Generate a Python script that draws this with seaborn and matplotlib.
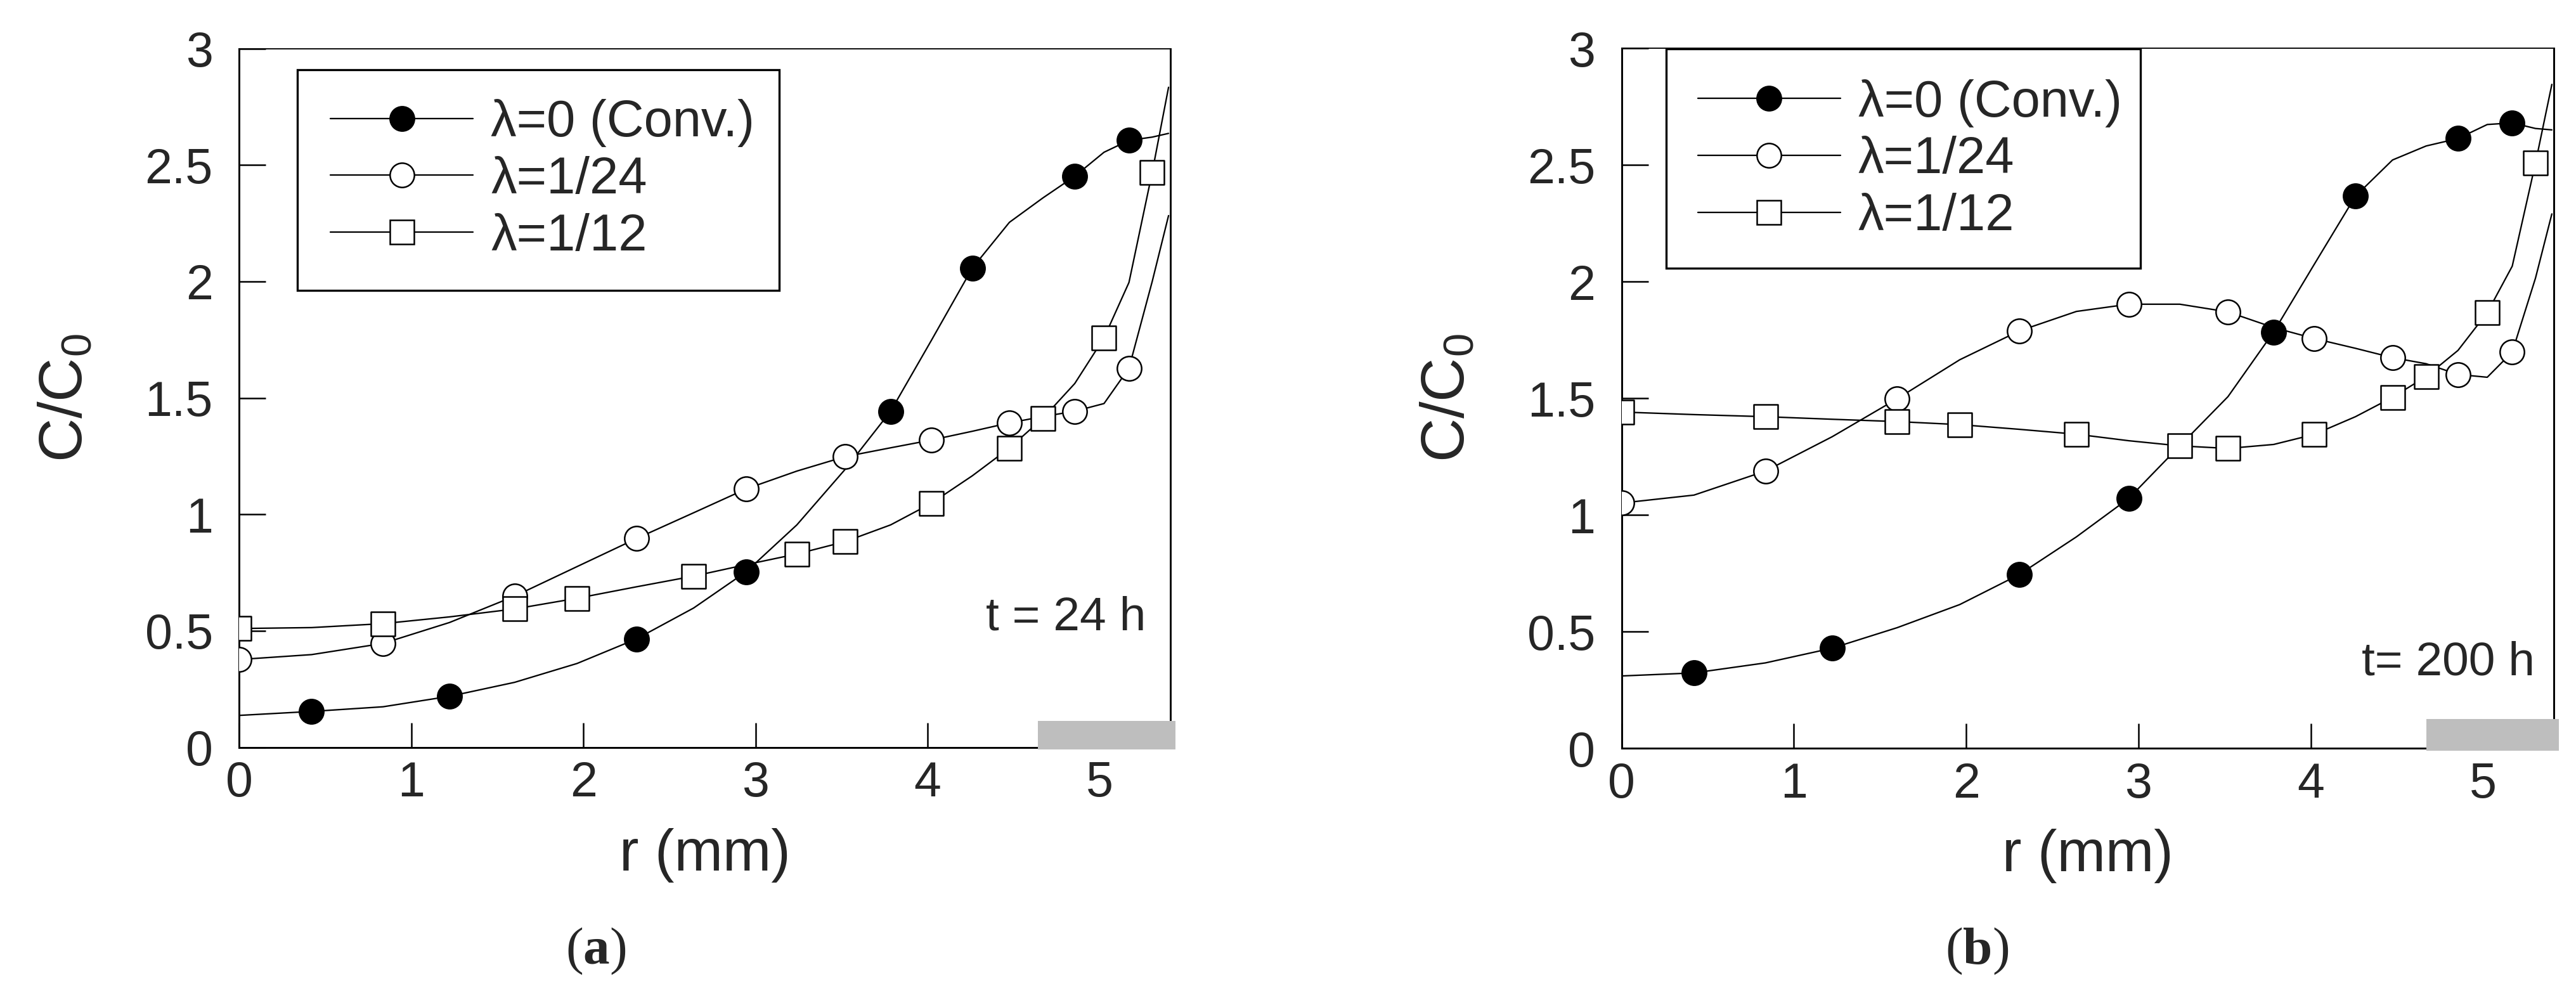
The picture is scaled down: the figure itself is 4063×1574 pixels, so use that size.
import numpy as np
import seaborn as sns
import matplotlib.pyplot as plt
from matplotlib.lines import Line2D
from matplotlib.patches import Rectangle

# radial nodes of the computed profiles (mm)
r_nodes = np.array([0.0, 0.42, 0.835, 1.222, 1.60, 1.963, 2.307, 2.64, 2.944, 3.24, 3.52,
                    3.785, 4.02, 4.26, 4.475, 4.67, 4.855, 5.025, 5.17, 5.305, 5.40])

# t = 24 h
conv_24h = np.array([0.137, 0.154, 0.174, 0.219, 0.279, 0.36, 0.465, 0.598, 0.753, 0.955, 1.193,
                     1.443, 1.745, 2.058, 2.254, 2.359, 2.452, 2.555, 2.606, 2.62, 2.636])
lam24_24h = np.array([0.377, 0.398, 0.446, 0.536, 0.649, 0.776, 0.896, 1.007, 1.109, 1.186, 1.248,
                      1.286, 1.319, 1.357, 1.393, 1.42, 1.443, 1.476, 1.628, 2.0, 2.283])
lam12_24h = np.array([0.51, 0.514, 0.531, 0.56, 0.594, 0.64, 0.689, 0.735, 0.784, 0.83, 0.883,
                      0.955, 1.047, 1.166, 1.285, 1.413, 1.562, 1.758, 1.996, 2.469, 2.834])

# t = 200 h
conv_200h = np.array([0.31, 0.323, 0.366, 0.429, 0.517, 0.616, 0.744, 0.906, 1.071, 1.296, 1.507,
                      1.784, 2.073, 2.366, 2.521, 2.581, 2.613, 2.673, 2.68, 2.656, 2.65])
lam24_200h = np.array([1.051, 1.085, 1.188, 1.335, 1.498, 1.665, 1.788, 1.872, 1.903, 1.903, 1.87,
                       1.803, 1.756, 1.714, 1.674, 1.648, 1.602, 1.59, 1.698, 2.015, 2.29])
lam12_200h = np.array([1.441, 1.43, 1.421, 1.41, 1.40, 1.387, 1.367, 1.346, 1.318, 1.296, 1.285,
                       1.302, 1.345, 1.421, 1.504, 1.593, 1.705, 1.867, 2.066, 2.508, 2.845])

# which nodes carry a symbol
conv_marks = [1, 3, 6, 8, 11, 13, 16, 18]
lam24_marks = [0, 2, 4, 6, 8, 10, 12, 14, 16, 18]
lam12_marks = [0, 2, 4, 5, 7, 9, 10, 12, 14, 15, 17, 19]

legend_labels = ['λ=0 (Conv.)', 'λ=1/24', 'λ=1/12']
time_labels = ['t = 24 h', 't= 200 h']
panel_labels = ['a', 'b']
y_ticks = [0, 0.5, 1, 1.5, 2, 2.5, 3]
y_tick_labels = ['0', '0.5', '1', '1.5', '2', '2.5', '3']
x_ticks = [0, 1, 2, 3, 4, 5]
zone_start = [4.64, 4.67]   # grey band on the r axis
zone_height = [0.112, 0.125]

sns.set_style('ticks')
plt.rcParams['font.family'] = ['Liberation Sans', 'DejaVu Sans']
plt.rcParams['mathtext.fontset'] = 'custom'
plt.rcParams['mathtext.bf'] = 'Liberation Serif:bold'
plt.rcParams['mathtext.rm'] = 'Liberation Serif'

fig = plt.figure(figsize=(4063 / 300, 1574 / 300), dpi=300)
ax_a = fig.add_axes([0.0929, 0.2512, 0.3614, 0.7001])
ax_b = fig.add_axes([0.6295, 0.2502, 0.3618, 0.7015])

# legend frame (x0, y0, x1, y1) and content anchor, axes fraction
panels = [
    (ax_a, [conv_24h, lam24_24h, lam12_24h], (0.0622, 0.654, 0.580, 0.970), (0.098, 0.928)),
    (ax_b, [conv_200h, lam24_200h, lam12_200h], (0.0478, 0.686, 0.557, 0.9994), (0.0818, 0.956)),
]
styles = [('o', 'black', conv_marks), ('o', 'white', lam24_marks), ('s', 'white', lam12_marks)]
text_pos = [(5.27, 0.505), (5.30, 0.313)]
label_x = [940 / 4063, 3118 / 4063]

lw = 0.55
for i, (ax, series, box, anchor) in enumerate(panels):
    for vals, (mk, face, idx) in zip(series, styles):
        sns.lineplot(x=r_nodes, y=vals, ax=ax, color='black', lw=lw, sort=False,
                     estimator=None, legend=False, zorder=2)
        sns.scatterplot(x=r_nodes[idx], y=vals[idx], ax=ax, marker=mk, s=85, color=face,
                        edgecolor='black', linewidth=0.6, legend=False, zorder=4)

    ax.set_xlim(0, 5.41)
    ax.set_ylim(0, 3)
    ax.set_yticks(y_ticks)
    ax.set_yticklabels(y_tick_labels)
    ax.set_xticks(x_ticks)
    ax.tick_params(axis='both', direction='in', labelsize=18.5, width=0.6, color='black')
    ax.tick_params(axis='y', length=10, pad=10)
    ax.tick_params(axis='x', length=9.4, pad=5)
    for side in ['left', 'bottom', 'right']:
        ax.spines[side].set_linewidth(0.7)
        ax.spines[side].set_color('black')
    ax.spines['top'].set_linewidth(0.45)
    ax.spines['top'].set_color('black')

    ax.set_xlabel('r (mm)', fontsize=22, labelpad=8)
    ax.set_ylabel(r'C/C$_{\mathregular{0}}$', fontsize=23, labelpad=19)

    ax.add_patch(Rectangle((zone_start[i], -0.01), 5.44 - zone_start[i], zone_height[i] + 0.01,
                           facecolor='#bebebe', edgecolor='none', clip_on=False, zorder=5))

    ax.text(text_pos[i][0], text_pos[i][1], time_labels[i], fontsize=18, ha='right', va='baseline')

    # legend: content without frame, frame drawn as its own box
    handles = [Line2D([], [], color='black', lw=lw, marker=mk, markersize=9.2,
                      markerfacecolor=face, markeredgecolor='black', markeredgewidth=0.6)
               for mk, face, _ in styles]
    ax.legend(handles, legend_labels, loc='upper left', bbox_to_anchor=anchor,
              fontsize=19.5, frameon=False, handlelength=2.77, handletextpad=0.34,
              labelspacing=0.17, borderpad=0, borderaxespad=0)
    ax.add_patch(Rectangle((box[0], box[1]), box[2] - box[0], box[3] - box[1],
                           transform=ax.transAxes, facecolor='white', edgecolor='black',
                           linewidth=0.8, zorder=3.5))

    fig.text(label_x[i], 1 - 1500 / 1574, r'($\mathbf{%s}$)' % panel_labels[i],
             fontsize=20, ha='center', va='center', family='Liberation Serif')

fig.savefig('out.png', dpi=300, facecolor='white')
